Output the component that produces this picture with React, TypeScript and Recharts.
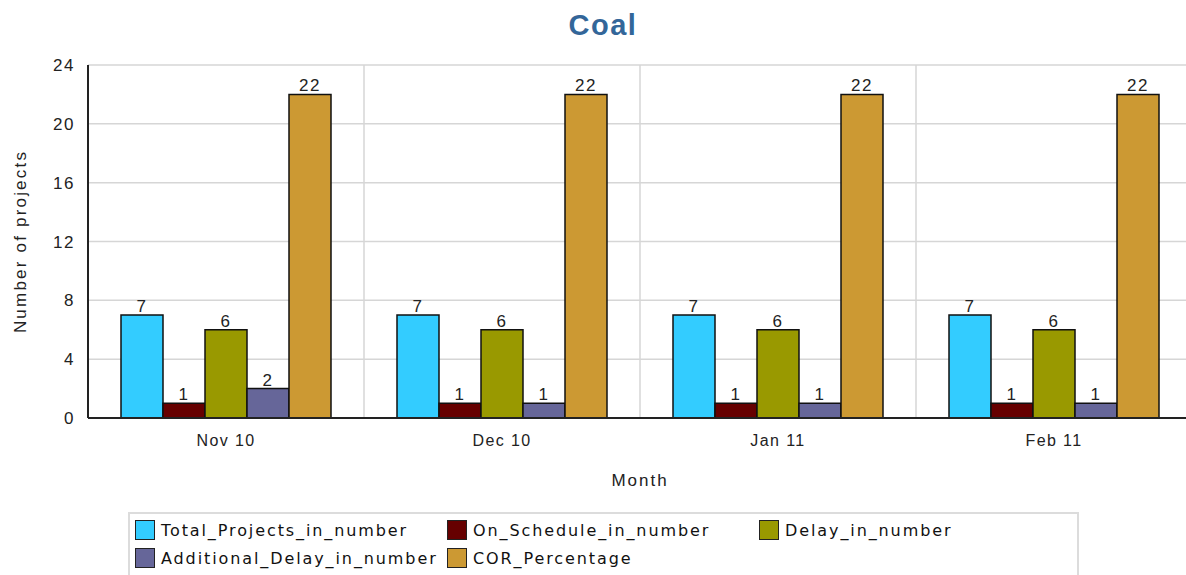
import React from 'react'
import { BarChart, Bar, XAxis, YAxis, CartesianGrid, LabelList } from 'recharts'

// Categories and series values
const months = ['Nov 10', 'Dec 10', 'Jan 11', 'Feb 11']
const totalProjects = [7, 7, 7, 7]
const onSchedule = [1, 1, 1, 1]
const delay = [6, 6, 6, 6]
const additionalDelay = [2, 1, 1, 1]
const corPercentage = [22, 22, 22, 22]
const yTicks = [0, 4, 8, 12, 16, 20, 24]

const series = [
  { key: 'Total_Projects_in_number', values: totalProjects, color: '#33CCFF' },
  { key: 'On_Schedule_in_number', values: onSchedule, color: '#660000' },
  { key: 'Delay_in_number', values: delay, color: '#999900' },
  { key: 'Additional_Delay_in_number', values: additionalDelay, color: '#666699' },
  { key: 'COR_Percentage', values: corPercentage, color: '#CC9933' },
]

const data = months.map((month, i) => {
  const row: Record<string, string | number> = { month }
  series.forEach((s) => {
    row[s.key] = s.values[i]
  })
  return row
})

const FONT = '"Liberation Sans", Arial, sans-serif'

// Legend placement (3 columns, wraps to a second row)
const legendCols = [135, 447, 759]
const legendRows = [520, 548]

export default function App() {
  return (
    <div style={{ position: 'absolute', left: 0, top: 0, width: 1186, height: 575, overflow: 'hidden', background: '#fff' }}>
      <div
        style={{
          position: 'absolute', left: 603, top: 9, transform: 'translateX(-50%)',
          fontFamily: FONT, fontWeight: 'bold', fontSize: 29, letterSpacing: 1.5, color: '#336699',
        }}
      >
        Coal
      </div>
      <BarChart
        width={1200}
        height={575}
        data={data}
        margin={{ top: 65, right: 8, left: 0, bottom: 87 }}
        barCategoryGap={33}
        barGap={0}
      >
        <CartesianGrid
          stroke="#d6d6d6"
          strokeWidth={1.5}
          verticalCoordinatesGenerator={({ offset }: any) =>
            months.map((_, i) => offset.left + (offset.width / months.length) * i).slice(1)
          }
        />
        <XAxis
          dataKey="month"
          height={70}
          tickLine={false}
          axisLine={{ stroke: '#222', strokeWidth: 2 }}
          tick={{ fill: '#222', fontSize: 16, fontFamily: FONT, dy: 9, style: { letterSpacing: 1.4 } }}
          label={{
            value: 'Month', position: 'insideBottom', offset: 2, fill: '#222', fontSize: 17, fontFamily: FONT,
            style: { letterSpacing: 2 },
          }}
        />
        <YAxis
          width={88}
          domain={[0, 24]}
          ticks={yTicks}
          tickLine={false}
          axisLine={{ stroke: '#222', strokeWidth: 2 }}
          tick={{ fill: '#222', fontSize: 17, fontFamily: FONT, dx: -5, style: { letterSpacing: 1.5 } }}
          label={{
            value: 'Number of projects', angle: -90, position: 'insideLeft', offset: 20,
            style: { textAnchor: 'middle', letterSpacing: 2.2 }, fill: '#222', fontSize: 17, fontFamily: FONT,
          }}
        />
        {series.map((s) => (
          <Bar key={s.key} dataKey={s.key} fill={s.color} stroke="#111" strokeWidth={1.5} isAnimationActive={false}>
            <LabelList
              dataKey={s.key}
              position="top"
              offset={3}
              fill="#222"
              fontSize={17}
              fontFamily={FONT}
              style={{ letterSpacing: 1.5 }}
            />
          </Bar>
        ))}
      </BarChart>
      <div
        style={{
          position: 'absolute', left: 128, top: 512, width: 951, height: 80,
          border: '2px solid #dcdcdc', boxSizing: 'border-box',
        }}
      />
      {series.map((s, i) => (
        <div
          key={s.key}
          style={{
            position: 'absolute',
            left: legendCols[i % 3],
            top: legendRows[Math.floor(i / 3)],
            display: 'flex',
            alignItems: 'center',
            fontFamily: '"DejaVu Sans", sans-serif',
            fontSize: 16,
            letterSpacing: 1.9,
            color: '#111',
            whiteSpace: 'nowrap',
          }}
        >
          <span
            style={{
              display: 'inline-block', width: 18, height: 18, background: s.color,
              border: '1.5px solid #222', marginRight: 6,
            }}
          />
          {s.key}
        </div>
      ))}
    </div>
  )
}
